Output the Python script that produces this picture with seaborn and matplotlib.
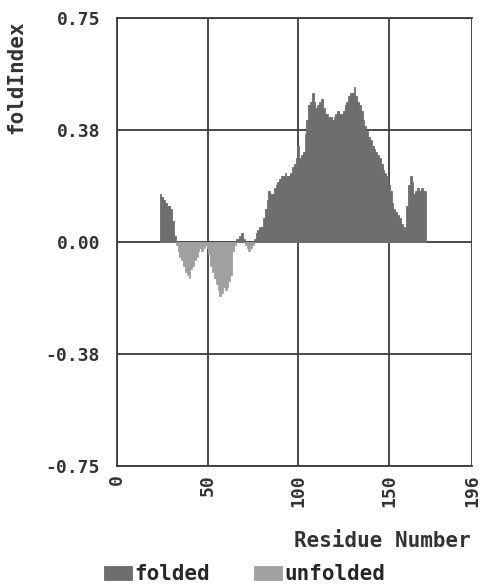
import numpy as np
import pandas as pd
import matplotlib
matplotlib.use("Agg")
import matplotlib.pyplot as plt
import seaborn as sns

# --- data (one value per residue, 24..170) ---
residues = list(range(24, 171))
fold_index = [
    0.16, 0.15, 0.14, 0.13, 0.12, 0.12, 0.11, 0.07, 0.02, -0.01,      # 24-33
    -0.03, -0.05, -0.06, -0.08, -0.10, -0.11, -0.12, -0.09, -0.08, -0.06,  # 34-43
    -0.05, -0.03, -0.02, -0.03, -0.02, -0.01, -0.02, -0.04, -0.08, -0.10,  # 44-53
    -0.12, -0.14, -0.16, -0.18, -0.17, -0.15, -0.16, -0.15, -0.13, -0.11,  # 54-63
    -0.03, -0.01, 0.01, 0.01, 0.02, 0.03, 0.01, -0.01, -0.02, -0.03,       # 64-73
    -0.02, -0.01, 0.01, 0.03, 0.04, 0.05, 0.05, 0.08, 0.11, 0.14,          # 74-83
    0.17, 0.16, 0.16, 0.18, 0.19, 0.20, 0.21, 0.22, 0.22, 0.23,            # 84-93
    0.22, 0.22, 0.23, 0.25, 0.26, 0.28, 0.32, 0.28, 0.29, 0.30,            # 94-103
    0.36, 0.41, 0.46, 0.47, 0.50, 0.47, 0.45, 0.46, 0.47, 0.48,            # 104-113
    0.45, 0.43, 0.43, 0.42, 0.42, 0.41, 0.42, 0.43, 0.44, 0.43,            # 114-123
    0.43, 0.44, 0.46, 0.47, 0.49, 0.50, 0.50, 0.52, 0.49, 0.47,            # 124-133
    0.46, 0.44, 0.41, 0.39, 0.37, 0.35, 0.34, 0.32, 0.31, 0.30,            # 134-143
    0.29, 0.28, 0.26, 0.24, 0.23, 0.22, 0.19, 0.17, 0.13, 0.11,            # 144-153
    0.10, 0.09, 0.08, 0.06, 0.04, 0.05, 0.12, 0.19, 0.22, 0.20,            # 154-163
    0.16, 0.17, 0.18, 0.17, 0.18, 0.17, 0.17,                              # 164-170
]
y_ticks = [-0.75, -0.375, 0.0, 0.375, 0.75]
y_tick_labels = ["-0.75", "-0.38", "0.00", "0.38", "0.75"]
x_ticks = [0, 50, 100, 150, 196]
state_names = ["folded", "unfolded"]
state_colors = {"folded": "#6e6e6e", "unfolded": "#a0a0a0"}

df = pd.DataFrame({"Residue": residues, "foldIndex": fold_index})
df["State"] = np.where(df["foldIndex"] >= 0, "folded", "unfolded")

sns.set_style("white")
plt.rcParams['font.family'] = ['DejaVu Sans Mono']
plt.rcParams['font.weight'] = 'bold'
TXT = '#333333'
LINE = '#3c3c3c'

fig = plt.figure(figsize=(4.85, 5.86), dpi=100)
ax = fig.add_axes([0.241, 0.2048, 0.733, 0.7645])

sns.barplot(data=df, x="Residue", y="foldIndex", hue="State", hue_order=state_names,
            palette=state_colors, native_scale=True, dodge=False, width=1.0,
            errorbar=None, linewidth=0.6, saturation=1, ax=ax, zorder=3)
for p in ax.patches:
    p.set_edgecolor(p.get_facecolor())

ax.set_xlim(0, 196)
ax.set_ylim(-0.75, 0.75)
ax.set_xticks(x_ticks)
ax.set_xticklabels([str(t) for t in x_ticks], rotation=90, fontsize=13, fontweight='bold', color=TXT)
ax.set_yticks(y_ticks)
ax.set_yticklabels(y_tick_labels, fontsize=13, fontweight='bold', color=TXT)
ax.tick_params(axis='y', length=4, width=1.3, color=LINE, pad=8)
ax.tick_params(axis='x', length=0, pad=6)
ax.grid(True, color=LINE, linewidth=1.3, zorder=1)
ax.set_axisbelow(True)
for side in ['left', 'bottom', 'top']:
    ax.spines[side].set_color(LINE)
    ax.spines[side].set_linewidth(1.3)
ax.spines['right'].set_visible(False)

ax.set_ylabel("foldIndex", fontsize=15, fontweight='bold', color=TXT, loc='top')
ax.yaxis.set_label_coords(-0.255, 0.995)
ax.set_xlabel("Residue Number", fontsize=15, fontweight='bold', color=TXT, loc='right')
ax.xaxis.set_label_coords(0.995, -0.145)

handles, labels = ax.get_legend_handles_labels()
ax.get_legend().remove()
fig.legend(handles, labels, loc='center', bbox_to_anchor=(0.504, 0.02), ncol=2,
           frameon=False, handlelength=1.35, handleheight=0.7, handletextpad=0.12,
           columnspacing=2.1, borderpad=0.1,
           prop={'family': 'DejaVu Sans Mono', 'weight': 'bold', 'size': 15})

fig.savefig("out.png", dpi=100)
